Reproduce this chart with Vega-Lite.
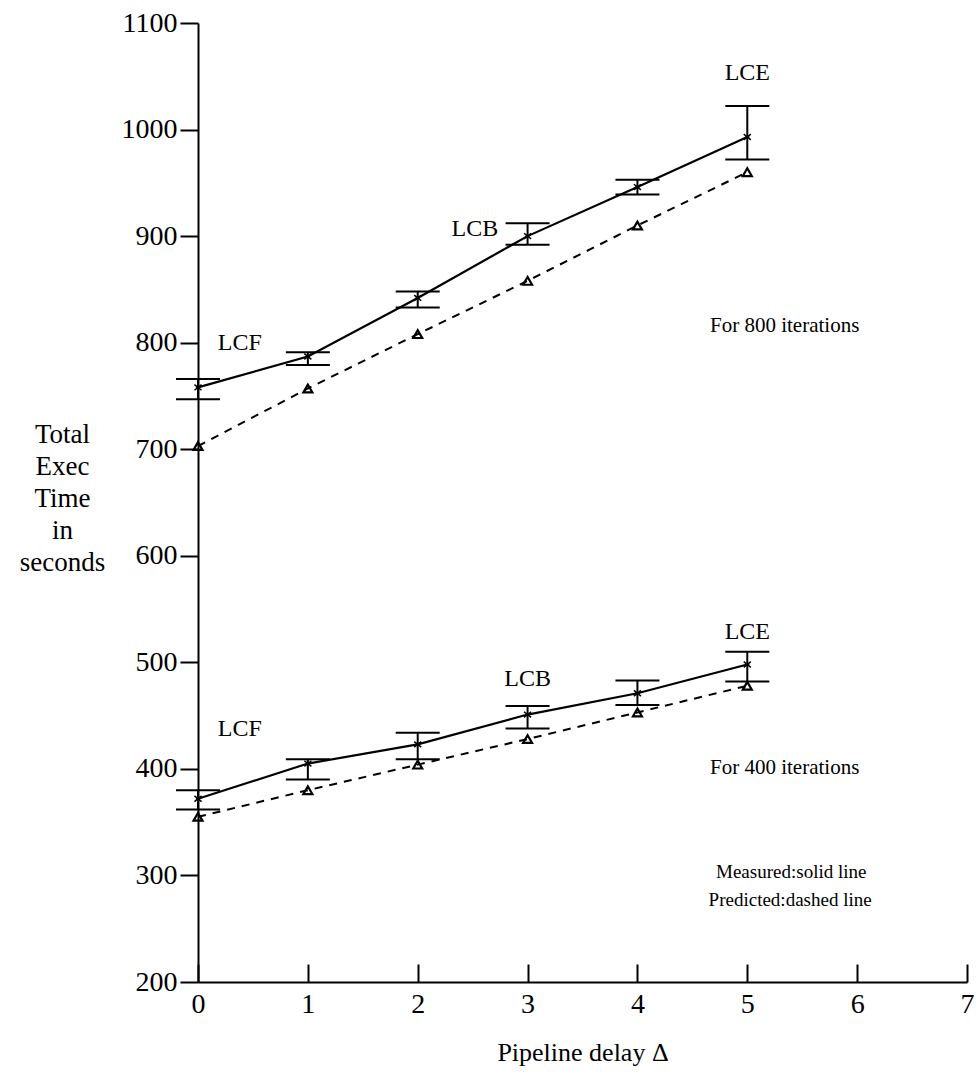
{
  "$schema": "https://vega.github.io/schema/vega-lite/v6.json",
  "width": 769,
  "height": 959,
  "autosize": {"type": "none"},
  "padding": {"left": 198, "top": 23, "right": 12, "bottom": 100},
  "background": "white",
  "config": {
    "view": {"stroke": null},
    "font": "Liberation Serif",
    "axis": {"grid": false, "domainColor": "black", "domainWidth": 2, "tickColor": "black", "tickWidth": 2, "labelColor": "black", "titleColor": "black", "labelFont": "Liberation Serif", "titleFont": "Liberation Serif", "labelFontSize": 28, "titleFontSize": 27, "titleFontWeight": "normal"}
  },
  "datasets": {
    "pts": [
      {"x": 0, "series": "800", "measured": 758, "lo": 747, "hi": 766, "predicted": 703},
      {"x": 1, "series": "800", "measured": 787, "lo": 779, "hi": 791, "predicted": 757},
      {"x": 2, "series": "800", "measured": 842, "lo": 833, "hi": 848, "predicted": 808},
      {"x": 3, "series": "800", "measured": 900, "lo": 892, "hi": 912, "predicted": 858},
      {"x": 4, "series": "800", "measured": 946, "lo": 939, "hi": 953, "predicted": 910},
      {"x": 5, "series": "800", "measured": 993, "lo": 972, "hi": 1022, "predicted": 960},
      {"x": 0, "series": "400", "measured": 372, "lo": 362, "hi": 380, "predicted": 355},
      {"x": 1, "series": "400", "measured": 405, "lo": 390, "hi": 409, "predicted": 380},
      {"x": 2, "series": "400", "measured": 423, "lo": 409, "hi": 434, "predicted": 404},
      {"x": 3, "series": "400", "measured": 451, "lo": 438, "hi": 459, "predicted": 428},
      {"x": 4, "series": "400", "measured": 471, "lo": 460, "hi": 483, "predicted": 453},
      {"x": 5, "series": "400", "measured": 498, "lo": 482, "hi": 510, "predicted": 478}
    ],
    "labels": [
      {"x": 0.38, "y": 800, "label": "LCF"},
      {"x": 2.52, "y": 907, "label": "LCB"},
      {"x": 5.0, "y": 1053, "label": "LCE"},
      {"x": 0.38, "y": 437, "label": "LCF"},
      {"x": 3.0, "y": 484, "label": "LCB"},
      {"x": 5.0, "y": 528, "label": "LCE"}
    ],
    "notes": [
      {"x": 5.34, "y": 816, "label": "For 800 iterations"},
      {"x": 5.34, "y": 401, "label": "For 400 iterations"}
    ],
    "legendnotes": [
      {"x": 5.40, "y": 303, "label": "Measured:solid line"},
      {"x": 5.39, "y": 277, "label": "Predicted:dashed line"}
    ]
  },
  "layer": [
    {
      "data": {"name": "pts"},
      "mark": {"type": "line", "color": "black", "strokeWidth": 2.2},
      "encoding": {
        "x": {"field": "x", "type": "quantitative", "scale": {"domain": [0, 7], "nice": false, "zero": false},
          "axis": {"values": [0, 1, 2, 3, 4, 5, 6, 7], "format": "d", "tickSize": -18, "labelPadding": 26, "title": "Pipeline delay Δ", "titleFontSize": 26, "titlePadding": 21, "labelFlush": false}},
        "y": {"field": "measured", "type": "quantitative", "scale": {"domain": [200, 1100], "nice": false, "zero": false},
          "axis": {"values": [200, 300, 400, 500, 600, 700, 800, 900, 1000, 1100], "format": "d", "tickSize": 18, "labelPadding": 3,
            "title": ["Total", "Exec", "Time", "in", "seconds"], "titleAngle": 0, "titleAlign": "center", "titleBaseline": "top", "titleX": -136, "titleY": 398, "titleLineHeight": 32, "titleFontSize": 27}},
        "detail": {"field": "series"}
      }
    },
    {
      "data": {"name": "pts"},
      "mark": {"type": "line", "color": "black", "strokeWidth": 2, "strokeDash": [8, 7]},
      "encoding": {
        "x": {"field": "x", "type": "quantitative"},
        "y": {"field": "predicted", "type": "quantitative"},
        "detail": {"field": "series"}
      }
    },
    {
      "data": {"name": "pts"},
      "mark": {"type": "rule", "color": "black", "strokeWidth": 2},
      "encoding": {
        "x": {"field": "x", "type": "quantitative"},
        "y": {"field": "lo", "type": "quantitative"},
        "y2": {"field": "hi"}
      }
    },
    {
      "data": {"name": "pts"},
      "mark": {"type": "tick", "orient": "horizontal", "color": "black", "size": 44, "thickness": 2, "opacity": 1},
      "encoding": {
        "x": {"field": "x", "type": "quantitative"},
        "y": {"field": "lo", "type": "quantitative"}
      }
    },
    {
      "data": {"name": "pts"},
      "mark": {"type": "tick", "orient": "horizontal", "color": "black", "size": 44, "thickness": 2, "opacity": 1},
      "encoding": {
        "x": {"field": "x", "type": "quantitative"},
        "y": {"field": "hi", "type": "quantitative"}
      }
    },
    {
      "data": {"name": "pts"},
      "mark": {"type": "point", "shape": "M-1,-0.8L1,0.8M-1,0.8L1,-0.8M-0.6,0L0.6,0", "filled": false, "stroke": "black", "strokeWidth": 1.5, "size": 50, "opacity": 1},
      "encoding": {
        "x": {"field": "x", "type": "quantitative"},
        "y": {"field": "measured", "type": "quantitative"}
      }
    },
    {
      "data": {"name": "pts"},
      "mark": {"type": "point", "shape": "triangle-up", "filled": false, "stroke": "black", "strokeWidth": 2.2, "size": 80, "opacity": 1},
      "encoding": {
        "x": {"field": "x", "type": "quantitative"},
        "y": {"field": "predicted", "type": "quantitative"}
      }
    },
    {
      "data": {"name": "labels"},
      "mark": {"type": "text", "font": "Liberation Serif", "fontSize": 24, "color": "black", "align": "center", "baseline": "middle"},
      "encoding": {
        "x": {"field": "x", "type": "quantitative"},
        "y": {"field": "y", "type": "quantitative"},
        "text": {"field": "label"}
      }
    },
    {
      "data": {"name": "notes"},
      "mark": {"type": "text", "font": "Liberation Serif", "fontSize": 21, "color": "black", "align": "center", "baseline": "middle"},
      "encoding": {
        "x": {"field": "x", "type": "quantitative"},
        "y": {"field": "y", "type": "quantitative"},
        "text": {"field": "label"}
      }
    },
    {
      "data": {"name": "legendnotes"},
      "mark": {"type": "text", "font": "Liberation Serif", "fontSize": 19, "color": "black", "align": "center", "baseline": "middle"},
      "encoding": {
        "x": {"field": "x", "type": "quantitative"},
        "y": {"field": "y", "type": "quantitative"},
        "text": {"field": "label"}
      }
    }
  ]
}
